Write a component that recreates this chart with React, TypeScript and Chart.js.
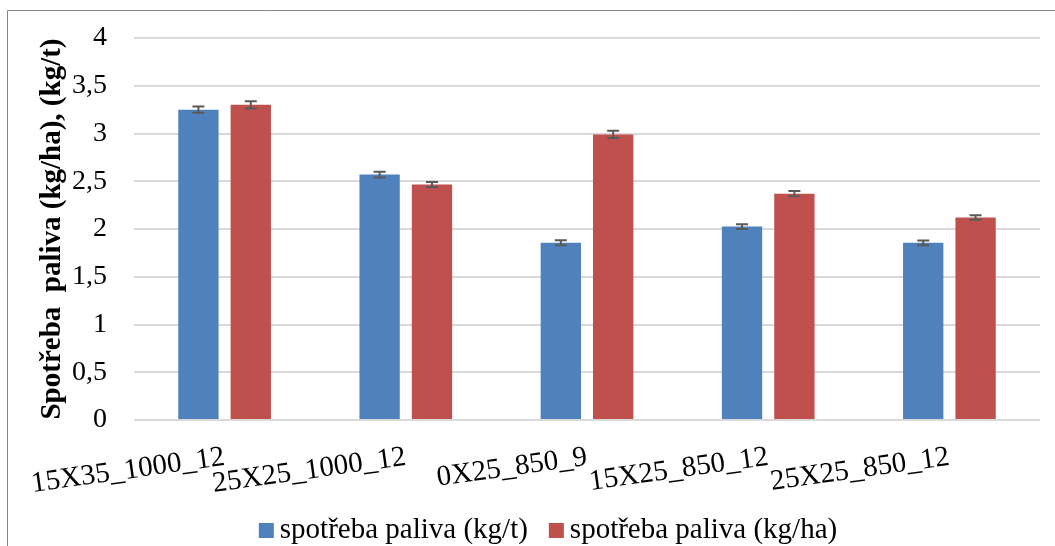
import React, { useEffect, useRef } from 'react';
import { Chart, registerables } from 'chart.js';

Chart.register(...registerables);

const categories = ['15X35_1000_12', '25X25_1000_12', '0X25_850_9', '15X25_850_12', '25X25_850_12'];
const seriesLabels = ['spotřeba paliva (kg/t)', 'spotřeba paliva (kg/ha)'];
const fuelPerTonne = [3.25, 2.57, 1.855, 2.025, 1.855];
const fuelPerHectare = [3.3, 2.465, 2.99, 2.37, 2.12];
const errPerTonne = [0.033, 0.03, 0.026, 0.026, 0.025];
const errPerHectare = [0.037, 0.026, 0.038, 0.028, 0.024];
const yMin = 0;
const yMax = 4;
const yStep = 0.5;
const yTitle = 'Spotřeba  paliva (kg/ha), (kg/t)';
const seriesColors = ['#4F81BD', '#C0504D'];

const FONT = '"Liberation Serif", "Times New Roman", serif';

const framePlugin = {
  id: 'frame',
  beforeDraw(chart: any) {
    const { ctx, width, height } = chart;
    ctx.save();
    ctx.fillStyle = '#ffffff';
    ctx.fillRect(0, 0, width, height);
    ctx.strokeStyle = '#868686';
    ctx.lineWidth = 1;
    ctx.beginPath();
    ctx.moveTo(7.5, height);
    ctx.lineTo(7.5, 10.5);
    ctx.lineTo(width, 10.5);
    ctx.stroke();
    ctx.restore();
  },
};

const errorBarPlugin = {
  id: 'errorBars',
  afterDatasetsDraw(chart: any) {
    const { ctx } = chart;
    const yScale = chart.scales.y;
    ctx.save();
    ctx.strokeStyle = '#595959';
    ctx.lineWidth = 2;
    chart.data.datasets.forEach((ds: any, i: number) => {
      const meta = chart.getDatasetMeta(i);
      meta.data.forEach((bar: any, j: number) => {
        const v = ds.data[j];
        const e = ds.errors[j];
        const yTop = yScale.getPixelForValue(v + e);
        const yBot = yScale.getPixelForValue(v - e);
        const half = 6;
        ctx.beginPath();
        ctx.moveTo(bar.x, yTop);
        ctx.lineTo(bar.x, yBot);
        ctx.moveTo(bar.x - half, yTop);
        ctx.lineTo(bar.x + half, yTop);
        ctx.moveTo(bar.x - half, yBot);
        ctx.lineTo(bar.x + half, yBot);
        ctx.stroke();
      });
    });
    ctx.restore();
  },
};

const legendPlugin = {
  id: 'customLegend',
  afterDraw(chart: any) {
    const { ctx } = chart;
    const centerX = 548;
    const boxTop = 523;
    const baseline = 537.5;
    const box = 15;
    const gapBoxText = 6;
    const gapItems = 21;
    ctx.save();
    ctx.font = `29px ${FONT}`;
    ctx.textBaseline = 'alphabetic';
    ctx.textAlign = 'left';
    const items = chart.data.datasets.map((ds: any) => ({
      label: ds.label,
      color: ds.backgroundColor,
      w: box + gapBoxText + ctx.measureText(ds.label).width,
    }));
    const total = items.reduce((s: number, it: any) => s + it.w, 0) + gapItems * (items.length - 1);
    let x = centerX - total / 2;
    items.forEach((it: any) => {
      ctx.fillStyle = it.color;
      ctx.fillRect(x, boxTop, box, box);
      ctx.fillStyle = '#000000';
      ctx.fillText(it.label, x + box + gapBoxText, baseline);
      x += it.w + gapItems;
    });
    ctx.restore();
  },
};

export default function App() {
  const ref = useRef<HTMLCanvasElement>(null);

  useEffect(() => {
    if (!ref.current) return;
    const chart = new Chart(ref.current, {
      type: 'bar',
      data: {
        labels: categories,
        datasets: [
          {
            label: seriesLabels[0],
            data: fuelPerTonne,
            errors: errPerTonne,
            backgroundColor: seriesColors[0],
            borderWidth: 0,
          } as any,
          {
            label: seriesLabels[1],
            data: fuelPerHectare,
            errors: errPerHectare,
            backgroundColor: seriesColors[1],
            borderWidth: 0,
          } as any,
        ],
      },
      options: {
        responsive: false,
        animation: false,
        devicePixelRatio: 1,
        datasets: {
          bar: {
            categoryPercentage: 0.578,
            barPercentage: 0.77,
          },
        },
        layout: {
          padding: { left: 8, top: 38, right: 15, bottom: 0 },
        },
        plugins: {
          legend: { display: false },
          tooltip: { enabled: false },
        },
        scales: {
          x: {
            grid: {
              display: true,
              drawOnChartArea: false,
              drawTicks: true,
              tickLength: 20,
              color: 'rgba(0,0,0,0)',
              tickColor: 'rgba(0,0,0,0)',
            },
            border: { display: false },
            ticks: {
              color: '#000000',
              font: { family: FONT, size: 29 },
              minRotation: 8,
              maxRotation: 8,
              autoSkip: false,
              padding: 0,
            },
            afterFit(scale: any) {
              scale.height = 126;
            },
          },
          y: {
            min: yMin,
            max: yMax,
            border: { display: false },
            grid: {
              color: '#d9d9d9',
              lineWidth: 2,
              drawTicks: true,
              tickLength: 27,
              tickColor: 'rgba(0,0,0,0)',
            },
            ticks: {
              stepSize: yStep,
              color: '#000000',
              font: { family: FONT, size: 28 },
              padding: 0,
              callback: (v: any) => String(v).replace('.', ','),
            },
            title: {
              display: true,
              text: yTitle,
              color: '#000000',
              font: { family: FONT, size: 29, weight: 'bold' },
              padding: { top: 27, bottom: 0 },
            },
            afterFit(scale: any) {
              scale.width = 126;
            },
          },
        },
      },
      plugins: [framePlugin, errorBarPlugin, legendPlugin],
    });
    return () => chart.destroy();
  }, []);

  return (
    <div style={{ position: 'fixed', left: 0, top: 0, width: 1055, height: 546, background: '#ffffff', overflow: 'hidden' }}>
      <canvas ref={ref} width={1055} height={546} style={{ display: 'block' }} />
    </div>
  );
}
